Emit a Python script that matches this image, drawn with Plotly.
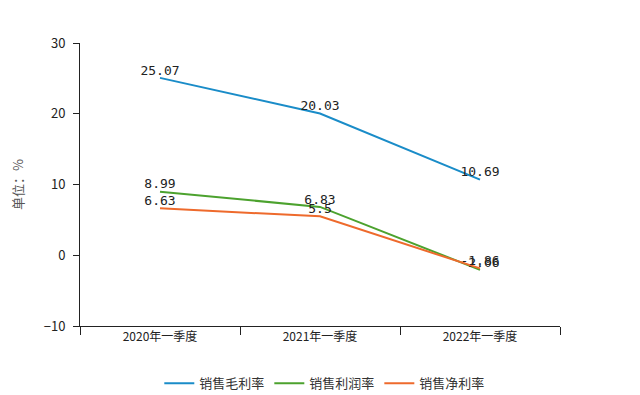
import plotly.graph_objects as go

categories = ["2020年一季度", "2021年一季度", "2022年一季度"]
gross_margin = [25.07, 20.03, 10.69]
profit_margin = [8.99, 6.83, -2.06]
net_margin = [6.63, 5.5, -1.86]
series_names = ["销售毛利率", "销售利润率", "销售净利率"]
colors = ["#1a8cc8", "#4ca22e", "#ee6a2c"]

fig = go.Figure()
for name, vals, c in zip(series_names, [gross_margin, profit_margin, net_margin], colors):
    fig.add_trace(go.Scatter(
        x=categories, y=vals, name=name, mode="lines+text",
        line=dict(color=c, width=2),
        text=[str(v) for v in vals], textposition="top center",
        textfont=dict(family="DejaVu Sans Mono, monospace", size=13, color="#222"),
    ))

fig.update_layout(
    width=640, height=395,
    margin=dict(l=72, r=88, t=35, b=77, autoexpand=False),
    paper_bgcolor="white", plot_bgcolor="white",
    font=dict(family="Noto Sans CJK SC, sans-serif", size=12, color="#333"),
    showlegend=True,
    legend=dict(orientation="h", x=0.51, xanchor="center", yref="container", y=0.05, yanchor="middle",
                font=dict(size=13, color="#333"), itemwidth=30, tracegroupgap=0),
)
fig.update_xaxes(
    type="category", range=[-0.5, 2.5], tickson="boundaries",
    showline=True, linecolor="#222", linewidth=1,
    ticks="outside", ticklen=8, tickcolor="#222",
    showgrid=False, zeroline=False, automargin=False,
    tickfont=dict(size=12, color="#222"),
)
fig.update_yaxes(
    range=[-10, 30], tickvals=[-10, 0, 10, 20, 30],
    showline=True, linecolor="#222", linewidth=1,
    ticks="outside", ticklen=6, tickcolor="#222", ticklabelstandoff=5,
    showgrid=False, zeroline=False, automargin=False,
    tickfont=dict(size=13, color="#222"),
    title=dict(text="单位：%", font=dict(size=13, color="#555"), standoff=24),
)
fig.write_html("out.html")
